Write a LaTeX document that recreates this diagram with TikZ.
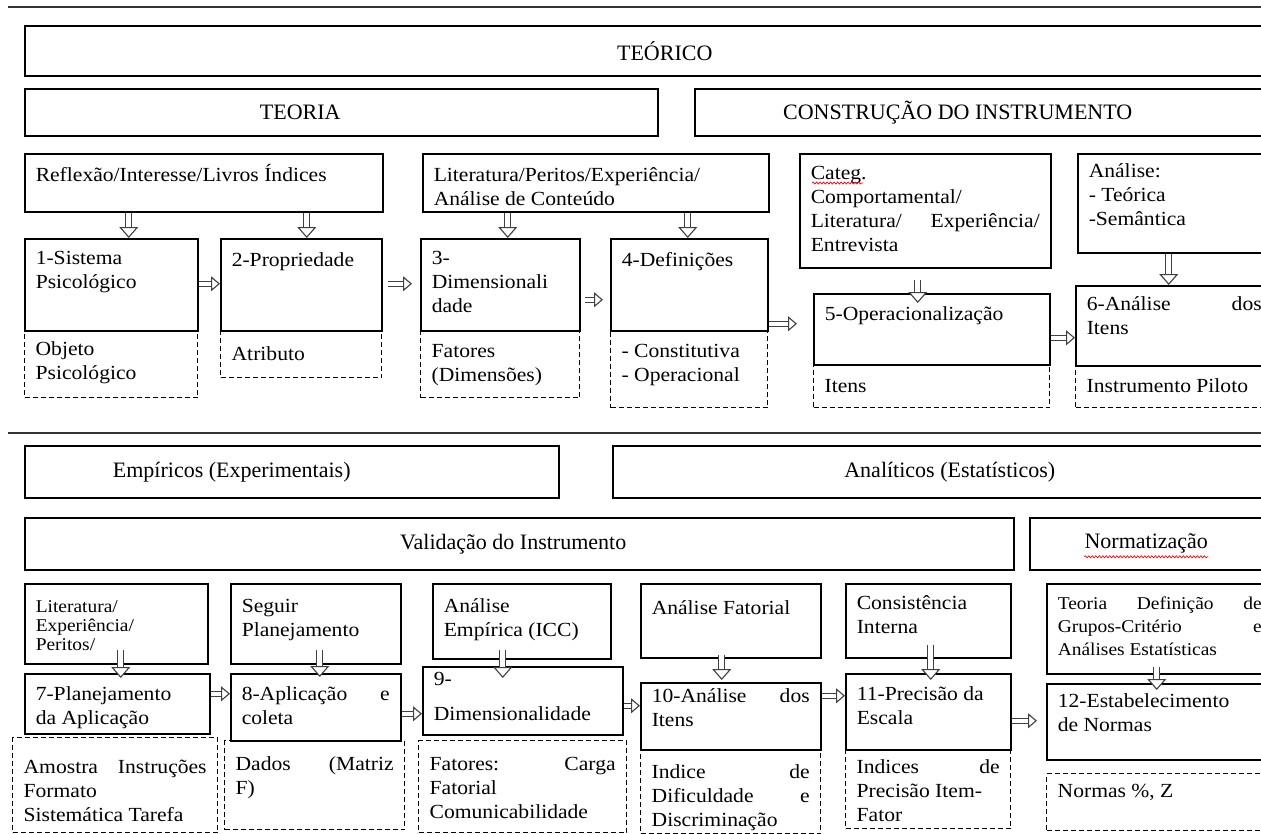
\documentclass[tikz,border=0pt]{standalone}
\usepackage{fontspec}
\setmainfont{Liberation Serif}[FakeStretch=1.08]
\newfontfamily\headfont{Liberation Serif}
\usetikzlibrary{calc, arrows.meta, decorations.pathmorphing}

% box text: [top gap]{width}{height}{text}
\newcommand{\boxtext}[4][10pt]{\parbox[c][#3pt][t]{\dimexpr#2pt-22pt\relax}{\vspace*{#1}\raggedright\strut#4}}
\newcommand{\wordgap}{\nobreak\hfill}

\begin{document}
\begin{tikzpicture}[x=1pt, y=-1pt,
every node/.style = {anchor=north west, inner xsep=11pt, inner ysep=0pt,
                     font=\fontsize{20}{24}\selectfont},
solidbox/.style = {draw, line width=1.5pt},
dashbox/.style = {draw, line width=1.3pt, dash pattern=on 5pt off 3pt},
heading/.style = {draw, line width=1.5pt, inner sep=0pt},
headlabel/.style = {font=\headfont\fontsize{22}{26}\selectfont, anchor=center, inner sep=0pt},
sepline/.style = {line width=2.4pt, draw=black!80},
spellwave/.style = {red, line width=0.7pt, decorate,
                    decoration={snake, amplitude=1pt, segment length=3.5pt}},
flowarrow/.style = {draw=black!75, double, double distance=4pt, line width=1.1pt,
                    -{Triangle[length=9pt, width=15pt, fill=white, line width=1.1pt]}},
droparrow/.style = {draw=black!75, double, double distance=5pt, line width=1.1pt,
                    -{Triangle[length=11pt, width=19pt, fill=white, line width=1.1pt]}}]
\path[use as bounding box, clip] (0,0) rectangle (1261,833);
\draw[sepline] (8,7) -- (1261,7);
\draw[sepline] (8,433) -- (1261,433);

% theoretical part
\node[heading, minimum width=1248, minimum height=50, label={[headlabel, xshift=16pt]center:TEÓRICO}] (teorico) at (24,25) {};
\node[heading, minimum width=633, minimum height=47, label={[headlabel, xshift=-41pt]center:TEORIA}] (teoria) at (24,88) {};
\node[heading, minimum width=578, minimum height=47, label={[headlabel, xshift=-26pt]center:{CONSTRUÇÃO DO INSTRUMENTO}}] (construcao) at (694,88) {};

\node[solidbox] (a1) at (24,153) {\boxtext[11pt]{358}{58}{Reflexão/Interesse/Livros Índices}};
\node[solidbox] (a2) at (422,153) {\boxtext[11pt]{346}{58}{Literatura/Peritos/Experiência/\\Análise de Conteúdo}};
\node[solidbox] (a3) at (799,153) {\boxtext[9pt]{251}{114}{Categ.\\Comportamental/\\Literatura/\wordgap Experiência/\\Entrevista}};
\node[solidbox] (a4) at (1077,153) {\boxtext[7pt]{195}{99}{Análise:\\- Teórica\\-Semântica}};
\draw[spellwave] ($(a3.north west)+(13,30)$) -- ($(a3.north west)+(64,30)$);

\node[solidbox] (b1) at (24,238) {\boxtext[9pt]{173}{92}{1-Sistema\\Psicológico}};
\node[solidbox] (b2) at (220,238) {\boxtext[11pt]{161}{92}{2-Propriedade}};
\node[solidbox] (b3) at (420,238) {\boxtext[9pt]{159}{92}{3-\\Dimensionali\\dade}};
\node[solidbox] (b4) at (610,238) {\boxtext[11pt]{157}{92}{4-Definições}};
\node[solidbox] (b5) at (813,293) {\boxtext{236}{71}{5-Operacionalização}};
\node[solidbox] (b6) at (1075,285) {\boxtext[8pt]{197}{80}{6-Análise\wordgap dos\\Itens}};

\node[dashbox] (d1) at (24,330) {\boxtext[8pt]{173}{67}{Objeto\\Psicológico}};
\node[dashbox] (d2) at (220,330) {\boxtext[13pt]{161}{47}{Atributo}};
\node[dashbox] (d3) at (420,330) {\boxtext{159}{67}{Fatores\\(Dimensões)}};
\node[dashbox] (d4) at (610,330) {\boxtext{157}{77}{- Constitutiva\\- Operacional}};
\node[dashbox] (d5) at (813,364) {\boxtext[11pt]{236}{43}{Itens}};
\node[dashbox] (d6) at (1075,365) {\boxtext{197}{42}{Instrumento Piloto}};

\draw[droparrow] ($(a1.south -| b1.north)+(17.5,0)$) -- ($(b1.north)+(17.5,0)$);
\draw[droparrow] ($(a1.south -| b2.north)+(5.5,0)$) -- ($(b2.north)+(5.5,0)$);
\draw[droparrow] ($(a2.south -| b3.north)+(7.5,0)$) -- ($(b3.north)+(7.5,0)$);
\draw[droparrow] ($(a2.south -| b4.north)+(-1.5,0)$) -- ($(b4.north)+(-1.5,0)$);
\draw[droparrow, shorten <=11pt, shorten >=-10pt] ($(a3.south -| b5.north)+(-14,0)$) -- ($(b5.north)+(-14,0)$);
\draw[droparrow] ($(a4.south -| b6.north)+(-5.5,0)$) -- ($(b6.north)+(-5.5,0)$);

\draw[flowarrow] ($(b1.east)+(0,-1)$) -- ($(b2.west)+(0,-1)$);
\draw[flowarrow, shorten <=5pt, shorten >=8pt] ($(b2.east)+(0,-1)$) -- ($(b3.west)+(0,-1)$);
\draw[flowarrow, shorten <=4pt, shorten >=7pt] ($(b3.east)+(0,15)$) -- ($(b4.west)+(0,15)$);
\draw[flowarrow, shorten >=16pt] ($(b4.east)+(0,39)$) -- ($(b5.west)+(0,-5.5)$);
\draw[flowarrow] ($(b5.east)+(0,8.5)$) -- ($(b6.west)+(0,12)$);

% empirical and analytical part
\node[heading, minimum width=534, minimum height=52, label={[headlabel, xshift=-60pt]center:{Empíricos (Experimentais)}}] (empiricos) at (24,445) {};
\node[heading, minimum width=660, minimum height=52, label={[headlabel, xshift=7pt]center:{Analíticos (Estatísticos)}}] (analiticos) at (612,445) {};
\node[heading, minimum width=989, minimum height=52, label={[headlabel, xshift=-6pt]center:{Validação do Instrumento}}] (validacao) at (24,517) {};
\node[heading, minimum width=243, minimum height=52, label={[headlabel, xshift=-5pt]center:Normatização}] (normatizacao) at (1029,517) {};
\draw[spellwave] ($(normatizacao.center)+(-67,13)$) -- ($(normatizacao.center)+(57,13)$);

\node[solidbox, font=\fontsize{18}{19}\selectfont] (c1) at (24,583) {\boxtext[15pt]{183}{80}{Literatura/\\Experiência/\\Peritos/}};
\node[solidbox] (c2) at (230,583) {\boxtext[12pt]{170}{80}{Seguir\\Planejamento}};
\node[solidbox] (c3) at (432,583) {\boxtext[12pt]{178}{75}{Análise\\Empírica (ICC)}};
\node[solidbox] (c4) at (640,583) {\boxtext[14pt]{180}{74}{Análise Fatorial}};
\node[solidbox] (c5) at (845,583) {\boxtext[9pt]{165}{74}{Consistência\\Interna}};
\node[solidbox, font=\fontsize{18}{23}\selectfont] (c6) at (1046,583) {\boxtext[10pt]{226}{90}{Teoria\wordgap Definição\wordgap de\\Grupos-Critério\wordgap e\\Análises Estatísticas}};

\node[solidbox] (m7) at (24,673) {\boxtext{185}{60}{7-Planejamento\\da Aplicação}};
\node[solidbox] (m8) at (230,673) {\boxtext{170}{67}{8-Aplicação\wordgap e\\coleta}};
\node[solidbox] (m9) at (422,666) {\boxtext[2pt]{200}{68}{9-\\[11pt]Dimensionalidade}};
\node[solidbox] (m10) at (640,682) {\boxtext[3pt]{180}{67}{10-Análise\wordgap dos\\Itens}};
\node[solidbox] (m11) at (845,673) {\boxtext{165}{76}{11-Precisão da\\Escala}};
\node[solidbox] (m12) at (1046,683) {\boxtext[7pt]{226}{76}{12-Estabelecimento\\de Normas}};

\node[dashbox] (d7) at (12,737) {\boxtext[19pt]{205}{95}{Amostra\wordgap Instruções\\Formato\\Sistemática Tarefa}};
\node[dashbox] (d8) at (224,740) {\boxtext[13pt]{180}{89}{Dados\wordgap (Matriz\\F)}};
\node[dashbox] (d9) at (418,740) {\boxtext[13pt]{208}{92}{Fatores:\wordgap Carga\\Fatorial\\Comunicabilidade}};
\node[dashbox] (d10) at (640,749) {\boxtext[12pt]{180}{84}{Indice\wordgap de\\Dificuldade\wordgap e\\Discriminação}};
\node[dashbox] (d11) at (845,749) {\boxtext[7pt]{165}{79}{Indices\wordgap de\\Precisão Item-\\Fator}};
\node[dashbox] (d12) at (1046,773) {\boxtext[7pt]{226}{57}{Normas \%, Z}};

\draw[droparrow, shorten <=-15pt, shorten >=-5pt] ($(c1.south -| m7.north)+(3.5,0)$) -- ($(m7.north)+(3.5,0)$);
\draw[droparrow, shorten <=-15pt, shorten >=-4pt] ($(c2.south -| m8.north)+(4,0)$) -- ($(m8.north)+(4,0)$);
\draw[droparrow, shorten <=-10pt, shorten >=-12pt] ($(c3.south -| m9.north)+(-20,0)$) -- ($(m9.north)+(-20,0)$);
\draw[droparrow, shorten <=-4pt, shorten >=2pt] ($(c4.south -| m10.north)+(-9,0)$) -- ($(m10.north)+(-9,0)$);
\draw[droparrow, shorten <=-14pt, shorten >=-7pt] ($(c5.south -| m11.north)+(2.5,0)$) -- ($(m11.north)+(2.5,0)$);
\draw[droparrow, shorten <=-8pt, shorten >=-7pt] ($(c6.south -| m12.north)+(-3,0)$) -- ($(m12.north)+(-3,0)$);

\draw[flowarrow] ($(m7.east)+(0,-10)$) -- ($(m8.west)+(0,-13.5)$);
\draw[flowarrow] ($(m8.east)+(0,6.5)$) -- ($(m9.west)+(0,13)$);
\draw[flowarrow] ($(m9.east)+(0,5)$) -- ($(m10.west)+(0,-10.5)$);
\draw[flowarrow] ($(m10.east)+(0,-20.5)$) -- ($(m11.west)+(0,-16)$);
\draw[flowarrow, shorten >=9pt] ($(m11.east)+(0,9)$) -- ($(m12.west)+(0,-1)$);
\end{tikzpicture}
\end{document}
